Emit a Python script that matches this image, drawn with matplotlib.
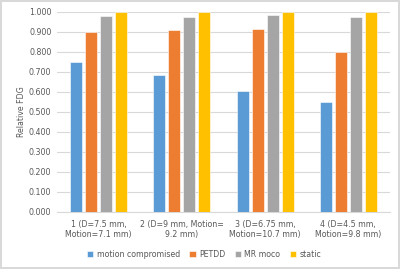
import matplotlib.pyplot as plt
import numpy as np

# --- Data ---
categories = ['1 (D=7.5 mm,\nMotion=7.1 mm)', '2 (D=9 mm, Motion=\n9.2 mm)',
              '3 (D=6.75 mm,\nMotion=10.7 mm)', '4 (D=4.5 mm,\nMotion=9.8 mm)']
series_names = ['motion compromised', 'PETDD', 'MR moco', 'static']
motion_compromised = [0.749, 0.682, 0.605, 0.547]
petdd = [0.899, 0.906, 0.912, 0.800]
mr_moco = [0.977, 0.973, 0.981, 0.973]
static = [1.000, 1.000, 1.000, 1.000]
yticks = np.arange(0, 1.0001, 0.1)

colors = ['#5B9BD5', '#ED7D31', '#A5A5A5', '#FFC000']
text_color = '#595959'

fig = plt.figure(figsize=(4, 2.69), dpi=100)
fig.patch.set_edgecolor('#D9D9D9')
fig.patch.set_linewidth(1.5)
ax = fig.add_axes([0.1425, 0.213, 0.8325, 0.744])

x = np.arange(len(categories))
bar_w = 0.145
step = 0.18
all_series = [motion_compromised, petdd, mr_moco, static]
for i, (vals, name, c) in enumerate(zip(all_series, series_names, colors)):
    ax.bar(x + (i - 1.5) * step, vals, bar_w, color=c, label=name,
           edgecolor='white', linewidth=0.4, zorder=3)

ax.set_xlim(-0.5, len(categories) - 0.5)
ax.set_ylim(0, 1.0)
ax.set_yticks(yticks)
ax.set_yticklabels([f'{v:.3f}' for v in yticks], fontsize=5.7, color=text_color)
ax.set_xticks(x)
ax.set_xticklabels(categories, fontsize=5.7, color=text_color, linespacing=1.15)
ax.tick_params(axis='y', length=0, pad=4)
ax.tick_params(axis='x', length=0, pad=6)
ax.yaxis.grid(True, color='#D9D9D9', linewidth=0.8, zorder=0)
ax.set_axisbelow(True)
for side in ['top', 'right', 'left']:
    ax.spines[side].set_visible(False)
ax.spines['bottom'].set_color('#D9D9D9')
ax.set_ylabel('Relative FDG', fontsize=5.7, color=text_color, labelpad=2)

fig.legend(loc='lower center', bbox_to_anchor=(0.51, 0.01), ncol=4, frameon=False,
           fontsize=5.7, labelcolor=text_color, handlelength=0.8, handleheight=0.8,
           handletextpad=0.4, columnspacing=1.2)

fig.savefig('out.png', dpi=100)
